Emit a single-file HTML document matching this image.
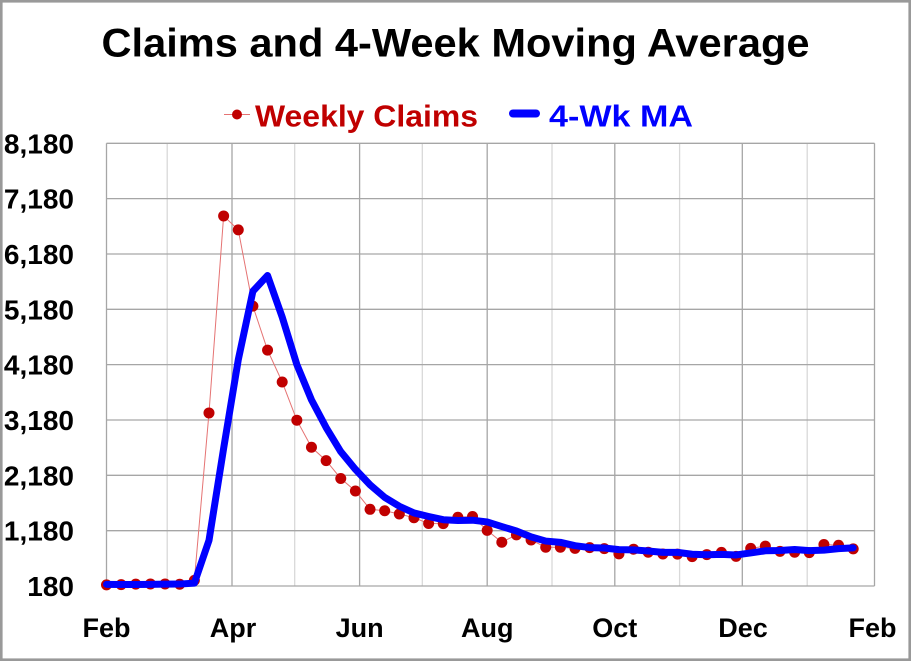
<!DOCTYPE html>
<html><head><meta charset="utf-8"><style>
html,body{margin:0;padding:0;background:#fff;}
svg{display:block;}
</style></head><body>
<svg width="912" height="662" viewBox="0 0 912 662" xmlns="http://www.w3.org/2000/svg">
<rect x="0" y="0" width="912" height="662" fill="#fff"/>
<rect x="1.3" y="1.3" width="908.4" height="658.4" fill="none" stroke="#999" stroke-width="2.6"/>
<text x="455.5" y="56.7" text-anchor="middle" font-family="Liberation Sans, sans-serif" font-weight="bold" font-size="40" textLength="708" lengthAdjust="spacingAndGlyphs" fill="#000">Claims and 4-Week Moving Average</text>
<line x1="224" y1="114.5" x2="250" y2="114.5" stroke="#E57373" stroke-width="1"/>
<circle cx="237" cy="114.5" r="5" fill="#C00000"/>
<text x="255" y="126.7" font-family="Liberation Sans, sans-serif" font-weight="bold" font-size="31" textLength="223" lengthAdjust="spacingAndGlyphs" fill="#C00000">Weekly Claims</text>
<line x1="513" y1="113.5" x2="536" y2="113.5" stroke="#0000FF" stroke-width="8" stroke-linecap="round"/>
<text x="549" y="126.7" font-family="Liberation Sans, sans-serif" font-weight="bold" font-size="31" textLength="144" lengthAdjust="spacingAndGlyphs" fill="#0000FF">4-Wk MA</text>
<g stroke="#D9D9D9" stroke-width="1.3">
<line x1="167.2" y1="143.3" x2="167.2" y2="586"/>
<line x1="294.7" y1="143.3" x2="294.7" y2="586"/>
<line x1="422.3" y1="143.3" x2="422.3" y2="586"/>
<line x1="552" y1="143.3" x2="552" y2="586"/>
<line x1="679.6" y1="143.3" x2="679.6" y2="586"/>
<line x1="807.2" y1="143.3" x2="807.2" y2="586"/>
</g>
<g stroke="#A6A6A6" stroke-width="1.3">
<line x1="232" y1="143.3" x2="232" y2="586"/>
<line x1="359.6" y1="143.3" x2="359.6" y2="586"/>
<line x1="487.2" y1="143.3" x2="487.2" y2="586"/>
<line x1="614.8" y1="143.3" x2="614.8" y2="586"/>
<line x1="742.3" y1="143.3" x2="742.3" y2="586"/>
<line x1="874.5" y1="143.3" x2="874.5" y2="586"/>
<line x1="106.5" y1="143.3" x2="874.5" y2="143.3"/>
<line x1="106.5" y1="198.6" x2="874.5" y2="198.6"/>
<line x1="106.5" y1="254" x2="874.5" y2="254"/>
<line x1="106.5" y1="309.3" x2="874.5" y2="309.3"/>
<line x1="106.5" y1="364.6" x2="874.5" y2="364.6"/>
<line x1="106.5" y1="420" x2="874.5" y2="420"/>
<line x1="106.5" y1="475.3" x2="874.5" y2="475.3"/>
<line x1="106.5" y1="530.7" x2="874.5" y2="530.7"/>
<line x1="106.5" y1="586" x2="874.5" y2="586"/>
<line x1="106.5" y1="143.3" x2="106.5" y2="586"/>
</g>
<g font-family="Liberation Sans, sans-serif" font-weight="bold" font-size="28" fill="#000" text-anchor="end">
<text x="74" y="153.3">8,180</text>
<text x="74" y="208.6">7,180</text>
<text x="74" y="264">6,180</text>
<text x="74" y="319.3">5,180</text>
<text x="74" y="374.6">4,180</text>
<text x="74" y="430">3,180</text>
<text x="74" y="485.3">2,180</text>
<text x="74" y="540.7">1,180</text>
<text x="74" y="596">180</text>
</g>
<g font-family="Liberation Sans, sans-serif" font-weight="bold" font-size="27" fill="#000" text-anchor="middle">
<text x="106.5" y="637">Feb</text>
<text x="233" y="637">Apr</text>
<text x="359.6" y="637">Jun</text>
<text x="487.2" y="637">Aug</text>
<text x="614.8" y="637">Oct</text>
<text x="743" y="637">Dec</text>
<text x="872.5" y="637">Feb</text>
</g>
<polyline fill="none" stroke="#E57373" stroke-width="1" points="106.5,584.84 121.14,584.67 135.78,584.12 150.42,583.95 165.06,583.95 179.71,584.28 194.35,580.36 208.99,412.95 223.63,215.94 238.27,229.89 252.91,306.15 267.55,350.14 282.19,381.96 296.84,420.2 311.48,447.26 326.12,460.6 340.76,478.47 355.4,490.98 370.04,509.3 384.68,510.74 399.32,513.95 413.97,517.77 428.61,523.47 443.25,523.58 457.89,517.27 472.53,516.55 487.17,530.33 501.81,542.23 516.45,534.87 531.09,540.01 545.74,547.21 560.38,547.26 575.02,548.37 589.66,547.65 604.3,548.65 618.94,553.9 633.58,549.2 648.22,552.24 662.87,554.01 677.51,554.07 692.15,556.61 706.79,554.57 721.43,552.41 736.07,556.34 750.71,548.37 765.35,546.16 780,551.36 794.64,552.24 809.28,552.57 823.92,544.49 838.56,545.27 853.2,548.92"/>
<g fill="#C00000">
<circle cx="106.5" cy="584.84" r="5.5"/><circle cx="121.14" cy="584.67" r="5.5"/><circle cx="135.78" cy="584.12" r="5.5"/><circle cx="150.42" cy="583.95" r="5.5"/><circle cx="165.06" cy="583.95" r="5.5"/><circle cx="179.71" cy="584.28" r="5.5"/><circle cx="194.35" cy="580.36" r="5.5"/><circle cx="208.99" cy="412.95" r="5.5"/><circle cx="223.63" cy="215.94" r="5.5"/><circle cx="238.27" cy="229.89" r="5.5"/><circle cx="252.91" cy="306.15" r="5.5"/><circle cx="267.55" cy="350.14" r="5.5"/><circle cx="282.19" cy="381.96" r="5.5"/><circle cx="296.84" cy="420.2" r="5.5"/><circle cx="311.48" cy="447.26" r="5.5"/><circle cx="326.12" cy="460.6" r="5.5"/><circle cx="340.76" cy="478.47" r="5.5"/><circle cx="355.4" cy="490.98" r="5.5"/><circle cx="370.04" cy="509.3" r="5.5"/><circle cx="384.68" cy="510.74" r="5.5"/><circle cx="399.32" cy="513.95" r="5.5"/><circle cx="413.97" cy="517.77" r="5.5"/><circle cx="428.61" cy="523.47" r="5.5"/><circle cx="443.25" cy="523.58" r="5.5"/><circle cx="457.89" cy="517.27" r="5.5"/><circle cx="472.53" cy="516.55" r="5.5"/><circle cx="487.17" cy="530.33" r="5.5"/><circle cx="501.81" cy="542.23" r="5.5"/><circle cx="516.45" cy="534.87" r="5.5"/><circle cx="531.09" cy="540.01" r="5.5"/><circle cx="545.74" cy="547.21" r="5.5"/><circle cx="560.38" cy="547.26" r="5.5"/><circle cx="575.02" cy="548.37" r="5.5"/><circle cx="589.66" cy="547.65" r="5.5"/><circle cx="604.3" cy="548.65" r="5.5"/><circle cx="618.94" cy="553.9" r="5.5"/><circle cx="633.58" cy="549.2" r="5.5"/><circle cx="648.22" cy="552.24" r="5.5"/><circle cx="662.87" cy="554.01" r="5.5"/><circle cx="677.51" cy="554.07" r="5.5"/><circle cx="692.15" cy="556.61" r="5.5"/><circle cx="706.79" cy="554.57" r="5.5"/><circle cx="721.43" cy="552.41" r="5.5"/><circle cx="736.07" cy="556.34" r="5.5"/><circle cx="750.71" cy="548.37" r="5.5"/><circle cx="765.35" cy="546.16" r="5.5"/><circle cx="780" cy="551.36" r="5.5"/><circle cx="794.64" cy="552.24" r="5.5"/><circle cx="809.28" cy="552.57" r="5.5"/><circle cx="823.92" cy="544.49" r="5.5"/><circle cx="838.56" cy="545.27" r="5.5"/><circle cx="853.2" cy="548.92" r="5.5"/>
</g>
<polyline fill="none" stroke="#0000FF" stroke-width="7" stroke-linejoin="round" stroke-linecap="round" points="106.5,584.34 121.14,584.56 135.78,584.51 150.42,584.4 165.06,584.17 179.71,584.06 194.35,583.12 208.99,540.4 223.63,448.37 238.27,359.77 252.91,291.2 267.55,275.54 282.19,317.05 296.84,364.58 311.48,399.89 326.12,427.51 340.76,451.63 355.4,469.34 370.04,484.84 384.68,497.35 399.32,506.25 413.97,512.95 428.61,516.49 443.25,519.7 457.89,520.53 472.53,520.2 487.17,521.92 501.81,526.56 516.45,530.99 531.09,536.86 545.74,541.06 560.38,542.34 575.02,545.71 589.66,547.59 604.3,547.98 618.94,549.64 633.58,549.86 648.22,550.97 662.87,552.35 677.51,552.35 692.15,554.23 706.79,554.79 721.43,554.4 736.07,554.95 750.71,552.91 765.35,550.8 780,550.53 794.64,549.53 809.28,550.58 823.92,550.14 838.56,548.65 853.2,547.82"/>
</svg>
</body></html>
